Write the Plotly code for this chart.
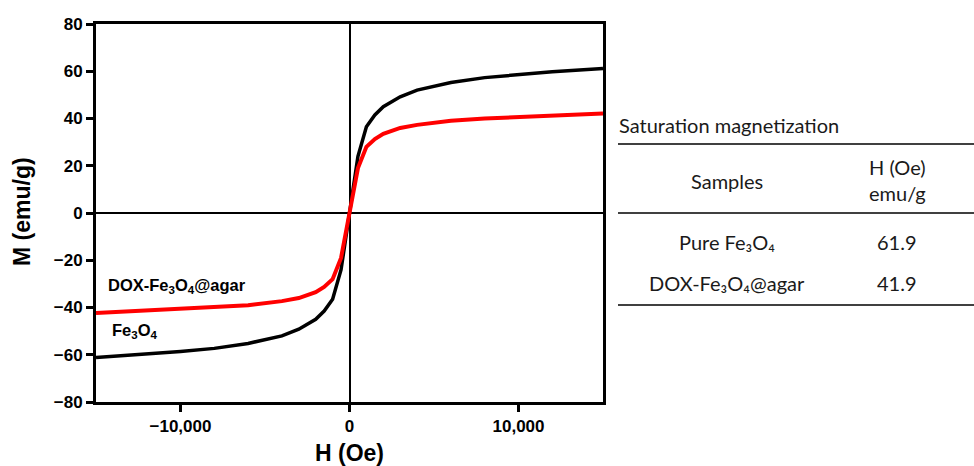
import plotly.graph_objects as go

# Data
H_field = [-15000, -12000, -10000, -8000, -6000, -4000, -3000, -2000, -1500, -1000, -500, 0,
           500, 1000, 1500, 2000, 3000, 4000, 6000, 8000, 10000, 12000, 15000]
M_fe3o4 = [-61.2, -59.8, -58.6, -57.3, -55.2, -52.0, -49.2, -45.0, -41.5, -36.5, -24.0, 0,
           24.0, 36.5, 41.5, 45.0, 49.2, 52.0, 55.2, 57.3, 58.6, 59.8, 61.2]
M_dox = [-42.3, -41.3, -40.7, -40.0, -39.0, -37.3, -36.0, -33.5, -31.3, -28.0, -19.0, 0,
         19.0, 28.0, 31.3, 33.5, 36.0, 37.3, 39.0, 40.0, 40.7, 41.3, 42.1]

table_title = "Saturation magnetization"
table_headers = ["Samples", "H (Oe)<br>emu/g"]
table_samples = ["Pure Fe₃O₄", "DOX-Fe₃O₄@agar"]
table_values = ["61.9", "41.9"]

x_ticks = [-10000, 0, 10000]
y_ticks = [-80, -60, -40, -20, 0, 20, 40, 60, 80]

fig = go.Figure()
fig.add_trace(go.Scatter(x=H_field, y=M_fe3o4, mode="lines",
                         line=dict(color="black", width=3.5), name="Fe3O4"))
fig.add_trace(go.Scatter(x=H_field, y=M_dox, mode="lines",
                         line=dict(color="#ff0000", width=4), name="DOX"))

L, R, T, B = 96, 603, 24, 402
W, Hh = 974, 466
def px(p): return (p - L) / (R - L)
def py(p): return (B - p) / (B - T)

tickfont = dict(family="Liberation Sans, Arial", size=17, color="black", weight="bold")
titlefont = dict(family="Liberation Sans, Arial", size=23, color="black", weight="bold")

fig.update_xaxes(range=[-15000, 15000], tickvals=x_ticks, tickformat=",d",
                 showline=True, linewidth=3, linecolor="black", mirror=True,
                 ticks="outside", ticklen=7, tickwidth=2.5, tickcolor="black",
                 showgrid=False, zeroline=True, zerolinecolor="black", zerolinewidth=2,
                 tickfont=tickfont, automargin=False)
fig.update_yaxes(range=[-80, 80], tickvals=y_ticks,
                 showline=True, linewidth=3, linecolor="black", mirror=True,
                 ticks="outside", ticklen=7, tickwidth=2.5, tickcolor="black",
                 showgrid=False, zeroline=True, zerolinecolor="black", zerolinewidth=2,
                 tickfont=tickfont, automargin=False)

# axis titles
fig.add_annotation(xref="paper", yref="paper", x=px(349), y=py(453), text="H (Oe)",
                   showarrow=False, xanchor="center", yanchor="middle", font=titlefont)
fig.add_annotation(xref="paper", yref="paper", x=px(22), y=py(212), text="M (emu/g)",
                   textangle=-90, showarrow=False, xanchor="center", yanchor="middle",
                   font=titlefont)

labfont = dict(family="Liberation Sans, Arial", size=16.5, color="black", weight="bold")
fig.add_annotation(x=-14400, y=-31, text="DOX-Fe<sub>3</sub>O<sub>4</sub>@agar",
                   showarrow=False, xanchor="left", yanchor="middle", font=labfont)
fig.add_annotation(x=-14200, y=-50, text="Fe<sub>3</sub>O<sub>4</sub>",
                   showarrow=False, xanchor="left", yanchor="middle", font=labfont)

tfont = dict(family="Lato, Open Sans, sans-serif", size=20, color="#1a1a1a")
fig.add_annotation(xref="paper", yref="paper", x=px(617), y=py(125), text=table_title,
                   showarrow=False, xanchor="left", yanchor="middle", font=tfont)
for yline in [144, 213, 305]:
    fig.add_shape(type="line", xref="paper", yref="paper",
                  x0=px(618), x1=px(974), y0=py(yline), y1=py(yline),
                  line=dict(color="black", width=1.5))
col_x = [727, 897]
fig.add_annotation(xref="paper", yref="paper", x=px(col_x[0]), y=py(181), text=table_headers[0],
                   showarrow=False, xanchor="center", yanchor="middle", font=tfont)
fig.add_annotation(xref="paper", yref="paper", x=px(col_x[1]), y=py(180), text=table_headers[1],
                   showarrow=False, xanchor="center", yanchor="middle", font=tfont)
for i, (s, v) in enumerate(zip(table_samples, table_values)):
    yy = [242, 283][i]
    fig.add_annotation(xref="paper", yref="paper", x=px(col_x[0]), y=py(yy), text=s,
                       showarrow=False, xanchor="center", yanchor="middle", font=tfont)
    fig.add_annotation(xref="paper", yref="paper", x=px(col_x[1]), y=py(yy), text=v,
                       showarrow=False, xanchor="center", yanchor="middle", font=tfont)

fig.update_layout(width=W, height=Hh, margin=dict(l=L, r=W - R, t=T, b=Hh - B),
                  plot_bgcolor="white", paper_bgcolor="white", showlegend=False,
                  separators=".,")
fig.write_html("out.html", config={"displayModeBar": False},
               post_script="document.body.style.margin='0';")
